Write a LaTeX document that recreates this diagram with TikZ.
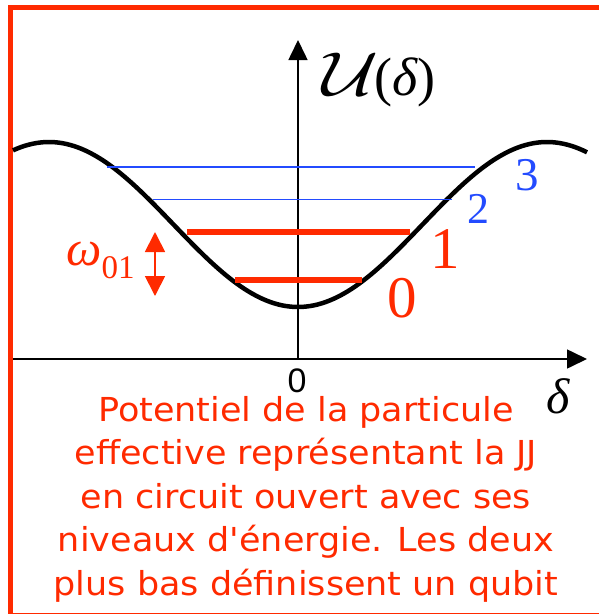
\documentclass[tikz,border=0pt]{standalone}
\usepackage{fix-cm}
\usepackage{fontspec}
\newfontfamily\notefont[FakeStretch=1.06]{DejaVu Sans}
\newfontfamily\tickfont{Liberation Sans}
\newfontfamily\numfont{Liberation Serif}
\usetikzlibrary{arrows.meta}

\definecolor{notered}{RGB}{255,42,0}
\definecolor{levelblue}{RGB}{35,75,255}

\newcommand*{\xmin}{13}
\newcommand*{\xmax}{587}
\newcommand*{\ymin}{359}
\newcommand*{\ymax}{40}
\newcommand*{\xorig}{298}

\begin{document}
\begin{tikzpicture}
[
	x=1pt,
	y=-1pt,
	axis/.style={line width=1.6pt,-{Triangle[length=20pt,width=19pt]}},
	potential/.style={line width=4.5pt},
	lowlevel/.style={notered,line width=6pt},
	highlevel/.style={levelblue,line width=1.8pt},
	levellabel/.style={inner sep=0pt,anchor=base west}
]

	\useasboundingbox (0,0) rectangle (599,614);

	% frame
	\draw[notered,line width=5.4pt] (10.7,612.5) -- (10.7,7.3) -- (599,7.3);
	\draw[notered,line width=1.3pt] (8,613.2) -- (599,613.2);

	% axes
	\coordinate (orig) at (\xorig,\ymin);
	\coordinate (xstart) at (\xmin,\ymin);
	\coordinate (xend) at (\xmax,\ymin);
	\coordinate (yend) at (\xorig,\ymax);
	\draw[axis] (xstart) -- (xend);
	\draw[axis] (orig) -- (yend);

	% axis labels
	\node[inner sep=0pt,anchor=base] (zero) at (297,392) {\tickfont\fontsize{34}{34}\selectfont 0};
	\node[inner sep=0pt,anchor=base west] (delta) at (546,413) {\numfont\itshape\fontsize{50}{50}\selectfont δ};
	\node[inner sep=0pt,anchor=base west] (ulabel) at (322,95)
	  {\fontsize{62}{62}\selectfont\scalebox{1.25}[1]{$\mathcal{U}$}\kern-4pt\numfont\fontsize{54}{54}\selectfont(\itshape δ\upshape)};

	% potential
	\draw[potential] plot[domain=\xmin:\xmax,samples=150,smooth]
	  (\x,{224.5+82.5*cos(0.72289*(\x-\xorig))});

	% upper levels
	\coordinate (lthreea) at (107,167);
	\coordinate (lthreeb) at (475,167);
	\coordinate (ltwoa) at (153,199.5);
	\coordinate (ltwob) at (452,199.5);
	\draw[highlevel] (lthreea) -- (lthreeb);
	\draw[highlevel] (ltwoa) -- (ltwob);

	% qubit levels
	\coordinate (lonea) at (187,231.5);
	\coordinate (loneb) at (410,231.5);
	\coordinate (lzeroa) at (235,279.5);
	\coordinate (lzerob) at (362,279.5);
	\draw[lowlevel] (lonea) -- (loneb);
	\draw[lowlevel] (lzeroa) -- (lzerob);

	% level labels
	\node[levellabel,levelblue] (nthree) at (515,190) {\numfont\fontsize{47}{47}\selectfont 3};
	\node[levellabel,levelblue] (ntwo) at (467,223) {\numfont\fontsize{44}{44}\selectfont 2};
	\node[levellabel,notered] (none) at (430,268) {\numfont\fontsize{59}{59}\selectfont 1};
	\node[levellabel,notered] (nzero) at (387,317) {\numfont\fontsize{59}{59}\selectfont 0};

	% transition
	\coordinate (wtop) at (155,232);
	\coordinate (wbot) at (155,296);
	\draw[notered,line width=1.8pt,{Triangle[length=20pt,width=20pt]}-{Triangle[length=20pt,width=20pt]}] (wtop) -- (wbot);
	\node[inner sep=0pt,anchor=base west,notered] (omega) at (66,265)
	  {\numfont\itshape\fontsize{50}{50}\selectfont ω\upshape\fontsize{33}{33}\selectfont\raisebox{-13pt}{01}};

	% caption
	\foreach \txt [count=\i] in {Potentiel de la particule,effective représentant la JJ,en circuit ouvert avec ses,niveaux d'énergie. Les deux,plus bas définissent un qubit} {
		\node[notered,inner sep=0pt,anchor=base] (cap\i) at (306,{421+43.5*(\i-1)}) {\notefont\fontsize{33}{33}\selectfont \txt};
	}

\end{tikzpicture}
\end{document}
